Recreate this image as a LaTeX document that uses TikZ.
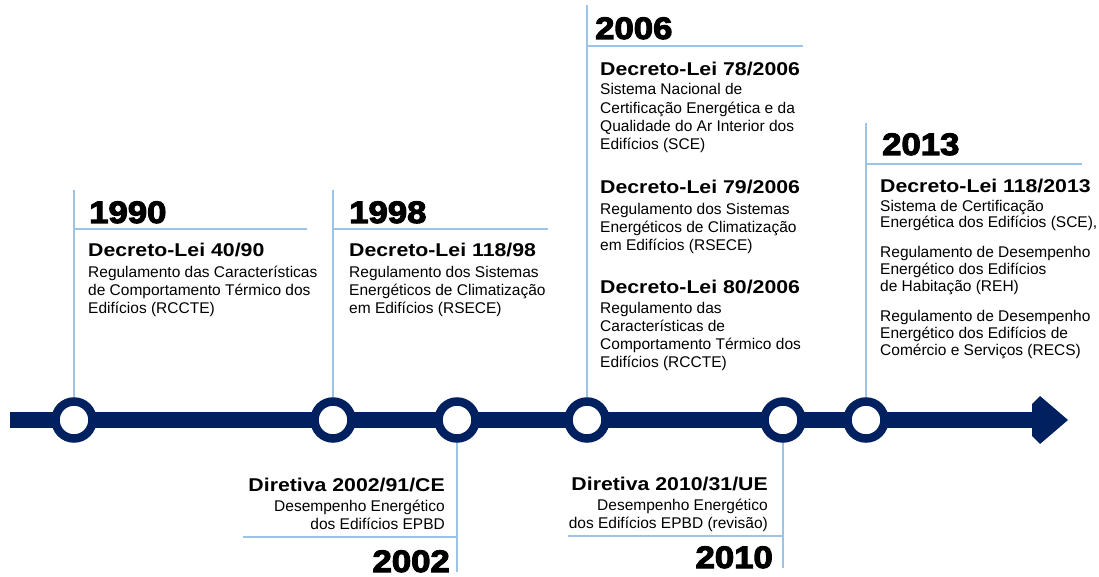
\documentclass[tikz,border=0pt]{standalone}
\usepackage{fontspec}
\setmainfont{Liberation Sans}
\newfontfamily\yearfont{Liberation Sans Bold}[FakeBold=3.5,FakeStretch=1.12]
\newfontfamily\lawfont{Liberation Sans}[FakeStretch=1.15]
\usepackage{tikz}
\usetikzlibrary{positioning, backgrounds}
\definecolor{TimelineNavy}{HTML}{002060}
\definecolor{LeaderBlue}{HTML}{9DC3E6}
\tikzset{
  % Text styles (multi-line nodes are placed by the baseline of their last line)
  yearlbl/.style={inner sep=0pt, font=\yearfont\fontsize{31}{31}\selectfont},
  lawlbl/.style={inner sep=0pt, font=\lawfont\bfseries\fontsize{18.5}{20}\selectfont},
  desclbl/.style={inner sep=0pt, align=left, font=\fontsize{15.5}{18.3}\selectfont},
  % Timeline styles
  milestone/.style={circle, draw=TimelineNavy, fill=white, line width=8.5pt, minimum size=37pt, inner sep=0pt},
  leader/.style={draw=LeaderBlue, line width=1.3pt}
}

\begin{document}
\begin{tikzpicture}[x=1pt, y=-1pt]
  \useasboundingbox (0,0) rectangle (1099,577);

  % Timeline bar and head
  \coordinate (tstart) at (10,420);
  \coordinate (tend) at (1034,420);
  \draw[TimelineNavy, line width=16pt] (tstart) -- (tend);
  \fill[TimelineNavy] ([shift={(-2,-16)}]tend) -- ([shift={(6,-24)}]tend) -- ([shift={(34,0)}]tend)
    -- ([shift={(6,24)}]tend) -- ([shift={(-2,16)}]tend) -- cycle;

  % Milestones
  \node[milestone] (m1990) at (74,420) {};
  \node[milestone] (m1998) at (333,420) {};
  \node[milestone] (m2002) at (457,420) {};
  \node[milestone] (m2006) at (587,420) {};
  \node[milestone] (m2010) at (783,420) {};
  \node[milestone] (m2013) at (866,420) {};

  % Leader lines
  \coordinate (t1990) at (74,190);   \coordinate (h1990) at (307,229);
  \coordinate (t1998) at (333,190);  \coordinate (h1998) at (548,229);
  \coordinate (t2006) at (587,5);    \coordinate (h2006) at (803,46);
  \coordinate (t2013) at (866,123);  \coordinate (h2013) at (1082,164);
  \coordinate (b2002) at (457,572);  \coordinate (h2002) at (243,537);
  \coordinate (b2010) at (783,568);  \coordinate (h2010) at (568,536);
  \begin{scope}[on background layer]
    \draw[leader] (t1990) -- (m1990);  \draw[leader] (t1990 |- h1990) -- (h1990);
    \draw[leader] (t1998) -- (m1998);  \draw[leader] (t1998 |- h1998) -- (h1998);
    \draw[leader] (t2006) -- (m2006);  \draw[leader] (t2006 |- h2006) -- (h2006);
    \draw[leader] (t2013) -- (m2013);  \draw[leader] (t2013 |- h2013) -- (h2013);
    \draw[leader] (m2002) -- (b2002);  \draw[leader] (b2002 |- h2002) -- (h2002);
    \draw[leader] (m2010) -- (b2010);  \draw[leader] (b2010 |- h2010) -- (h2010);
  \end{scope}

  % 1990
  \node[yearlbl, anchor=base west] (y1990) at (89,223) {1990};
  \node[lawlbl, anchor=base west] (l1990) at (88,256) {Decreto-Lei 40/90};
  \node[desclbl, anchor=base west] (d1990) at (88,313.6) {Regulamento das Características\\de Comportamento Térmico dos\\Edifícios (RCCTE)};

  % 1998
  \node[yearlbl, anchor=base west] (y1998) at (349,223) {1998};
  \node[lawlbl, anchor=base west] (l1998) at (349,256) {Decreto-Lei 118/98};
  \node[desclbl, anchor=base west] (d1998) at (349,313.6) {Regulamento dos Sistemas\\Energéticos de Climatização\\em Edifícios (RSECE)};

  % 2002
  \node[lawlbl, anchor=base east] (l2002) at (445,491) {Diretiva 2002/91/CE};
  \node[desclbl, align=right, anchor=base east] (d2002) at (445,529.3) {Desempenho Energético\\dos Edifícios EPBD};
  \node[yearlbl, anchor=base east] (y2002) at (450,572) {2002};

  % 2006
  \node[yearlbl, anchor=base west] (y2006) at (595,39) {2006};
  \node[lawlbl, anchor=base west] (l2006a) at (600,76) {Decreto-Lei 78/2006};
  \node[desclbl, anchor=base west] (d2006a) at (600,149.9) {Sistema Nacional de\\Certificação Energética e da\\Qualidade do Ar Interior dos\\Edifícios (SCE)};
  \node[lawlbl, anchor=base west] (l2006b) at (600,194) {Decreto-Lei 79/2006};
  \node[desclbl, anchor=base west] (d2006b) at (600,250.6) {Regulamento dos Sistemas\\Energéticos de Climatização\\em Edifícios (RSECE)};
  \node[lawlbl, anchor=base west] (l2006c) at (600,293) {Decreto-Lei 80/2006};
  \node[desclbl, anchor=base west] (d2006c) at (600,367.9) {Regulamento das\\Características de\\Comportamento Térmico dos\\Edifícios (RCCTE)};

  % 2010
  \node[lawlbl, anchor=base east] (l2010) at (768,490) {Diretiva 2010/31/UE};
  \node[desclbl, align=right, anchor=base east] (d2010) at (768,528.3) {Desempenho Energético\\dos Edifícios EPBD (revisão)};
  \node[yearlbl, anchor=base east] (y2010) at (773,568) {2010};

  % 2013
  \node[yearlbl, anchor=base west] (y2013) at (882,155) {2013};
  \node[lawlbl, anchor=base west] (l2013) at (880,193) {Decreto-Lei 118/2013};
  \node[desclbl, font=\fontsize{15.5}{17}\selectfont, anchor=base west] (d2013a) at (880,228) {Sistema de Certificação\\Energética dos Edifícios (SCE),};
  \node[desclbl, font=\fontsize{15.5}{17}\selectfont, anchor=base west] (d2013b) at (880,291) {Regulamento de Desempenho\\Energético dos Edifícios\\de Habitação (REH)};
  \node[desclbl, font=\fontsize{15.5}{17}\selectfont, anchor=base west] (d2013c) at (880,355) {Regulamento de Desempenho\\Energético dos Edifícios de\\Comércio e Serviços (RECS)};
\end{tikzpicture}
\end{document}
